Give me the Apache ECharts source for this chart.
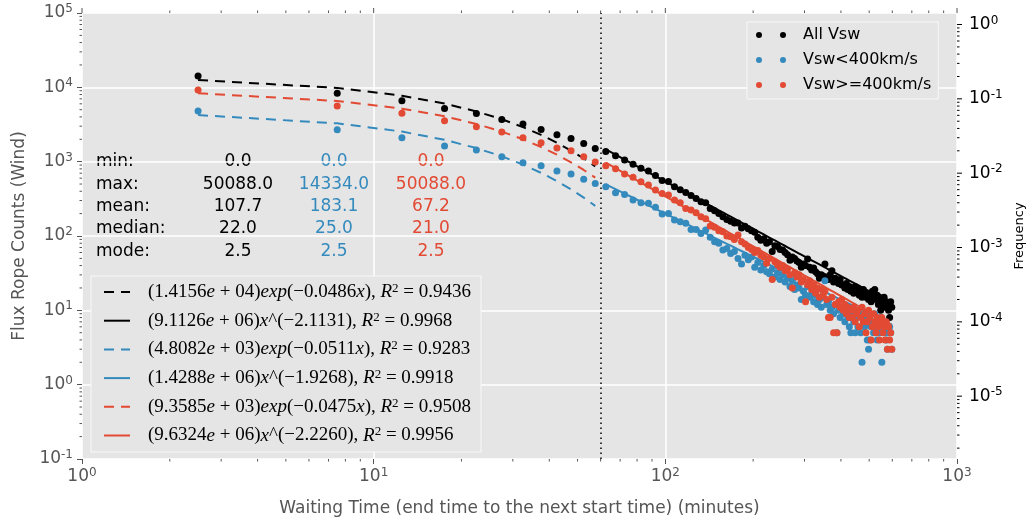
<!DOCTYPE html>
<html>
<head>
<meta charset="utf-8">
<script src="https://cdn.jsdelivr.net/npm/echarts@6/dist/echarts.min.js"></script>
<style>
  html, body { margin: 0; padding: 0; background: #ffffff; }
  #chart { width: 1027px; height: 527px; }
</style>
</head>
<body>
<div id="chart"></div>
<script>
// Waiting-time histogram of flux ropes (Wind), 5-minute bins
const binCentres = Array.from({ length: 120 }, (_, i) => 2.5 + 5 * i);

// counts per bin, all solar-wind speeds
const allCounts = [
  14200, 8300, 6600, 5200, 4450, 3700, 3200, 2700, 2300, 2050, 1750, 1500,
  1370, 1200, 1050, 920, 813, 750, 650, 560, 540, 460, 420, 385, 350, 320, 290, 280, 235, 218, 200, 181, 167, 158, 150, 150, 128,
  135, 125, 118, 112, 96, 88, 92, 80, 84, 62,
  74, 72, 66, 65, 60, 56, 47, 52, 50, 46,
  44, 38, 42, 40, 49, 38, 35, 37, 33, 31,
  27, 30, 29, 42, 28, 26, 30, 34, 24, 27,
  25, 23, 26, 22, 22, 20, 23, 19, 21, 18,
  20, 17, 21, 19, 20, 16, 18, 15, 19, 17,
  15, 17, 14, 16, 13, 18, 15, 19, 14, 16,
  12, 15, 10, 14, 12, 15, 11, 13, 12, 10,
  8, 13, 11
];
// counts per bin, Vsw < 400 km/s
const slowCounts = [
  4800, 2690, 2100, 1620, 1430, 1165, 966, 880, 747, 681, 578, 510,
  459, 382, 363, 304, 280, 275, 243, 197, 201, 164, 155, 148, 122, 122, 108, 120, 96, 84, 80, 65, 68, 58, 62, 50, 42,
  55, 48, 52, 38, 44, 35, 40, 33, 31, 36,
  28, 32, 26, 30, 24, 27, 21, 25, 19, 22,
  20, 14, 18, 16, 21, 15, 17, 13, 16, 12,
  14, 11, 15, 25, 12, 13, 10, 11, 9, 12,
  5, 10, 8, 11, 9, 7, 10, 8, 6, 5,
  9, 7, 5, 8, 6, 9, 5, 2, 7, 6,
  8, 4, 3, 4, 6, 7, 5, 9, 6, 4,
  7, 5, 8, 2, 6, 5, 7, 4, 3, 5,
  6, 5, 3
];
// counts per bin, Vsw >= 400 km/s
const fastCounts = [
  9200, 5600, 4470, 3550, 2950, 2500, 2100, 1795, 1525, 1400, 1165, 988,
  880, 803, 681, 615, 537, 484, 415, 374, 355, 304, 280, 235, 223, 205, 181, 171, 136, 131, 118, 114, 100, 98, 90, 103, 84,
  78, 70, 66, 60, 64, 55, 52, 43, 50, 26,
  45, 41, 38, 40, 34, 36, 30, 20, 32, 28,
  30, 24, 26, 13, 22, 25, 19, 22, 17, 20,
  15, 19, 16, 18, 14, 8, 8, 15, 5, 12,
  5, 13, 11, 14, 10, 12, 9, 11, 8, 10,
  8, 11, 7, 9, 10, 6, 8, 11, 7, 9,
  5, 7, 10, 8, 4, 6, 9, 7, 5, 8,
  6, 4, 7, 8, 5, 6, 4, 7, 3, 6,
  4, 5, 3
];

// fitted models: exponential below the break, power law above it
const breakTime = 60;
const expAmp = [1.4156e4, 4.8082e3, 9.3585e3];
const expRate = [-0.0486, -0.0511, -0.0475];
const expR2 = [0.9436, 0.9283, 0.9508];
const powAmp = [9.1126e6, 1.4288e6, 9.6324e6];
const powIndex = [-2.1131, -1.9268, -2.2260];
const powR2 = [0.9968, 0.9918, 0.9956];

// summary statistics of the waiting times
const statNames = ['min:', 'max:', 'mean:', 'median:', 'mode:'];
const allStats = [0.0, 50088.0, 107.7, 22.0, 2.5];
const slowStats = [0.0, 14334.0, 183.1, 25.0, 2.5];
const fastStats = [0.0, 50088.0, 67.2, 21.0, 2.5];

const groupNames = ['All Vsw', 'Vsw<400km/s', 'Vsw>=400km/s'];
const groupColors = ['#000000', '#348ABD', '#E24A33'];
const groupCounts = [allCounts, slowCounts, fastCounts];
const groupStats = [allStats, slowStats, fastStats];

// number of events used to turn counts into frequencies
const totalEvents = 70000;

const yMin = 0.1, yMax = 1e5;
const SANS = 'DejaVu Sans';
const SERIF = 'Liberation Serif';

function pairs(values) {
  return binCentres.map((x, i) => [x, values[i]]);
}
function expCurve(a, b) {
  return binCentres.filter(x => x < breakTime).map(x => [x, a * Math.exp(b * x)]);
}
function powCurve(a, b) {
  return binCentres.filter(x => x > breakTime).map(x => [x, a * Math.pow(x, b)]);
}

// mathtext-like legend label for a fit
function sciParts(a) {
  const [m, e] = a.toExponential(4).split('e');
  return [m, e[0], e.slice(1).padStart(2, '0')];
}
function fitLabel(kind, a, b, r2) {
  const [m, s, d] = sciParts(a);
  const coef = b.toFixed(4).replace('-', '\u2212');
  let txt = `{n|(${m}}{i|e}{n| ${s} ${d})}`;
  if (kind === 'exp') txt += `{i|exp}{n|(${coef}}{i|x}{n|)}`;
  else txt += `{i|x}{n|^(${coef})}`;
  txt += `{n|, }{i|R}{sup|2}{n| = ${r2.toFixed(4)}}`;
  return txt;
}

const fitNames = [];
const fitText = {};
const series = [];

groupNames.forEach((g, gi) => {
  const color = groupColors[gi];
  const scatter = {
    type: 'scatter', name: g, data: pairs(groupCounts[gi]),
    symbolSize: 7, itemStyle: { color, opacity: 1 }, z: 3
  };
  if (gi === 0) {
    scatter.markLine = {
      silent: true, symbol: 'none', label: { show: false },
      lineStyle: { color: '#000', width: 1.5, type: [1.5, 3.5] },
      data: [{ xAxis: breakTime }]
    };
  }
  series.push(scatter);

  const expName = 'fitExp' + gi, powName = 'fitPow' + gi;
  fitNames.push(expName, powName);
  fitText[expName] = fitLabel('exp', expAmp[gi], expRate[gi], expR2[gi]);
  fitText[powName] = fitLabel('pow', powAmp[gi], powIndex[gi], powR2[gi]);
  series.push({
    type: 'line', name: expName, data: expCurve(expAmp[gi], expRate[gi]),
    showSymbol: false, symbol: 'none', z: 3,
    lineStyle: { color, width: 2, type: [10, 7] }, itemStyle: { color }
  });
  series.push({
    type: 'line', name: powName, data: powCurve(powAmp[gi], powIndex[gi]),
    showSymbol: false, symbol: 'none', z: 3,
    lineStyle: { color, width: 2, type: 'solid' }, itemStyle: { color }
  });
});

// tick values (major and minor) for the log axes
const decadeMinors = (lo, hi) => {
  const out = [];
  for (let d = lo; d <= hi; d++) for (let m = 2; m <= 9; m++) out.push(m * Math.pow(10, d));
  return out;
};
const freqMin = yMin / totalEvents, freqMax = yMax / totalEvents;
const xMajorTicks = [1, 10, 100, 1000];
const xMinorTicks = decadeMinors(0, 2);
const leftMinorTicks = decadeMinors(-1, 4);
const rightMajorTicks = [1e-5, 1e-4, 1e-3, 1e-2, 1e-1, 1].filter(v => v >= freqMin && v <= freqMax);
const rightMinorTicks = decadeMinors(-6, 0).filter(v => v >= freqMin && v <= freqMax);

function tickSeries(values, side, len, color, yAxisIndex) {
  const horizontal = side === 'top' || side === 'bottom';
  return {
    type: 'custom', silent: true, clip: false, z: 6, yAxisIndex: yAxisIndex || 0,
    data: values.map(v => horizontal ? [v, 1] : [1, v]),
    renderItem(params, api) {
      const cs = params.coordSys;
      let x1, y1, x2, y2;
      if (horizontal) {
        const x = api.coord([api.value(0), 1])[0];
        y1 = side === 'top' ? cs.y : cs.y + cs.height;
        y2 = side === 'top' ? y1 - len : y1 + len;
        x1 = x2 = x;
      } else {
        const y = api.coord([1, api.value(1)])[1];
        x1 = side === 'left' ? cs.x : cs.x + cs.width;
        x2 = side === 'left' ? x1 - len : x1 + len;
        y1 = y2 = y;
      }
      return { type: 'line', shape: { x1, y1, x2, y2 }, style: { stroke: color, lineWidth: 1 } };
    }
  };
}
series.push(tickSeries(xMinorTicks, 'bottom', 2.5, '#555555'));
series.push(tickSeries(xMinorTicks, 'top', 2.5, '#555555'));
series.push(tickSeries(xMajorTicks, 'top', 5, '#555555'));
series.push(tickSeries(leftMinorTicks, 'left', 2.5, '#555555'));
series.push(tickSeries(rightMajorTicks, 'right', 5, '#000000', 1));
series.push(tickSeries(rightMinorTicks, 'right', 2.5, '#000000', 1));

function powerOfTen(color) {
  return {
    formatter: v => {
      const e = Math.log10(v), r = Math.round(e);
      if (Math.abs(e - r) > 1e-6) return '';
      return `{b|10}{s|${r}}`;
    },
    rich: {
      b: { fontFamily: SANS, fontSize: 17, color, lineHeight: 20 },
      s: { fontFamily: SANS, fontSize: 12, color, lineHeight: 20, verticalAlign: 'top' }
    }
  };
}

// statistics table drawn as text
const graphics = [];
const statRowTop = 162, statRowGap = 22.3;
const statColX = [238, 334, 431];
statNames.forEach((s, r) => {
  const y = statRowTop + r * statRowGap;
  graphics.push({
    type: 'text', x: 96, y, silent: true,
    style: { text: s, fill: '#000', font: `17px "${SANS}"`, textAlign: 'left', textVerticalAlign: 'middle' }
  });
  groupStats.forEach((vals, gi) => {
    graphics.push({
      type: 'text', x: statColX[gi], y, silent: true,
      style: { text: vals[r].toFixed(1), fill: groupColors[gi], font: `17px "${SANS}"`, textAlign: 'center', textVerticalAlign: 'middle' }
    });
  });
});

const mathRich = {
  n: { fontFamily: SERIF, fontSize: 19, lineHeight: 20, color: '#000' },
  i: { fontFamily: SERIF, fontSize: 19, lineHeight: 20, color: '#000', fontStyle: 'italic' },
  sup: { fontFamily: SERIF, fontSize: 13, lineHeight: 20, color: '#000', verticalAlign: 'top' }
};

const chart = echarts.init(document.getElementById('chart'), null, { renderer: 'canvas' });
chart.setOption({
  animation: false,
  backgroundColor: '#ffffff',
  grid: {
    left: 82, right: 70, top: 13, bottom: 68,
    containLabel: false, outerBoundsMode: 'none',
    show: true, backgroundColor: '#e5e5e5', borderWidth: 0
  },
  xAxis: {
    type: 'log', logBase: 10, min: 1, max: 1000,
    axisLine: { show: false },
    axisTick: { show: true, length: 5, lineStyle: { color: '#555555' } },
    splitLine: { show: true, lineStyle: { color: '#ffffff', width: 1.5 } },
    axisLabel: Object.assign({ margin: 8 }, powerOfTen('#555555')),
    name: 'Waiting Time (end time to the next start time) (minutes)',
    nameLocation: 'middle', nameGap: 41,
    nameTextStyle: { fontFamily: SANS, fontSize: 17, color: '#555555' }
  },
  yAxis: [
    {
      type: 'log', logBase: 10, min: yMin, max: yMax, position: 'left',
      axisLine: { show: false },
      axisTick: { show: true, length: 5, lineStyle: { color: '#555555' } },
      splitLine: { show: true, lineStyle: { color: '#ffffff', width: 1.5 } },
      axisLabel: Object.assign({ margin: 9 }, powerOfTen('#555555')),
      name: 'Flux Rope Counts (Wind)', nameLocation: 'middle', nameGap: 50, nameRotate: 90,
      nameTextStyle: { fontFamily: SANS, fontSize: 17, color: '#555555' }
    },
    {
      type: 'log', logBase: 10, min: freqMin, max: freqMax, position: 'right',
      axisLine: { show: false }, axisTick: { show: false }, splitLine: { show: false },
      axisLabel: Object.assign({ margin: 12, showMinLabel: false, showMaxLabel: false }, powerOfTen('#000000')),
      name: 'Frequency', nameLocation: 'middle', nameGap: 53, nameRotate: 90,
      nameTextStyle: { fontFamily: SANS, fontSize: 13, color: '#000000' }
    }
  ],
  legend: [
    {
      data: groupNames.map(n => ({
        name: n,
        icon: 'path://M0,3A3,3 0 1 1 6,3A3,3 0 1 1 0,3Z M24,3A3,3 0 1 1 30,3A3,3 0 1 1 24,3Z'
      })),
      orient: 'vertical', left: 747, top: 22,
      itemWidth: 30, itemHeight: 6, itemGap: 5,
      padding: [3, 7, 4, 9],
      backgroundColor: '#e5e5e5', borderColor: '#f8f8f8', borderWidth: 1,
      textStyle: { fontFamily: SANS, fontSize: 16, color: '#000', lineHeight: 20, padding: [0, 0, 0, 12] },
      selectedMode: false
    },
    {
      data: fitNames,
      orient: 'vertical', left: 91, top: 276,
      itemWidth: 26, itemHeight: 14, itemGap: 9.2,
      padding: [6, 10, 7, 12],
      backgroundColor: '#e5e5e5', borderColor: '#f8f8f8', borderWidth: 1,
      itemStyle: { opacity: 0 },
      formatter: name => fitText[name],
      textStyle: { color: '#000', padding: [0, 0, 0, 13], rich: mathRich },
      selectedMode: false
    }
  ],
  graphic: graphics,
  series
});
</script>
</body>
</html>
